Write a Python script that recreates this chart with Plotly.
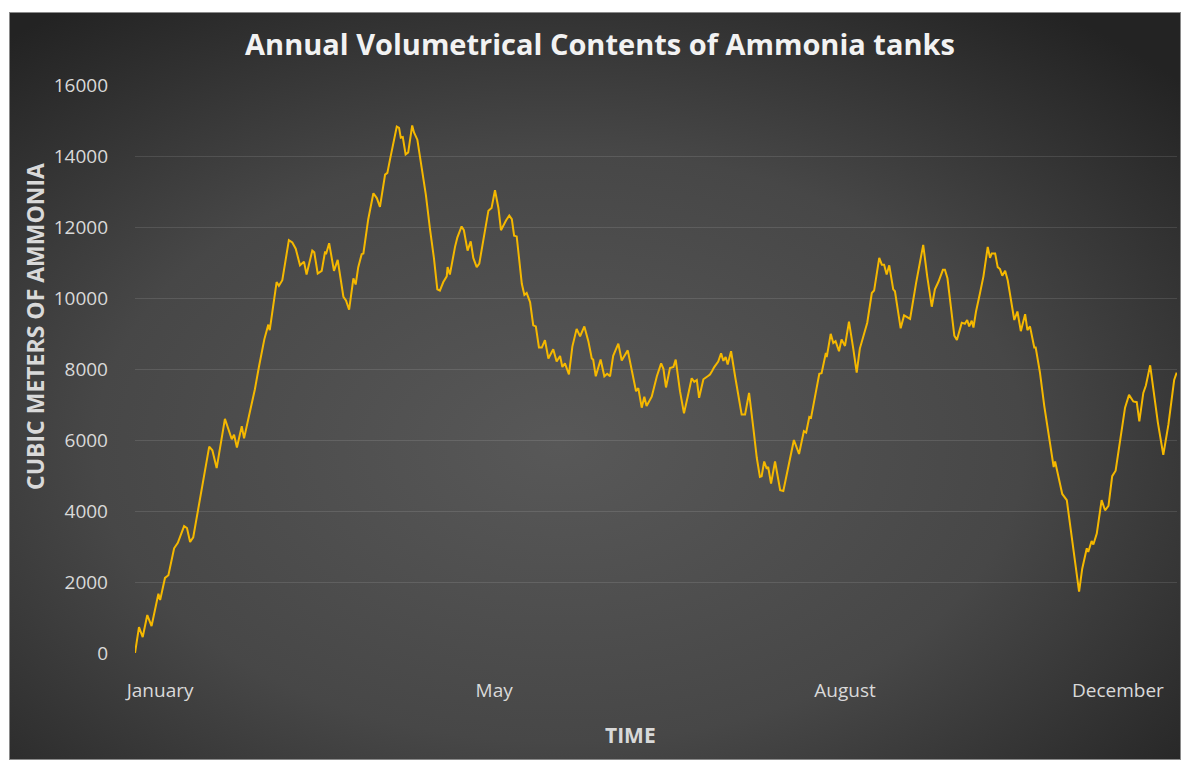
import base64
import plotly.graph_objects as go

# Day of year and tank contents (cubic meters)
days = [
    0.0, 1.4, 2.7, 4.3, 5.8, 8.2, 8.8, 10.5, 11.7, 13.7, 15.0, 17.2, 18.2, 19.3, 20.4,
    23.4, 26.0, 27.1, 28.6, 31.5, 32.9, 33.9, 34.7, 35.7, 37.4, 38.2, 39.9, 42.0, 43.4,
    45.3, 46.7, 47.2, 49.6, 50.4, 51.6, 53.9, 55.1, 56.3, 57.8, 59.2, 60.1, 62.1, 62.8,
    64.0, 65.4, 66.6, 66.9, 68.0, 69.7, 71.0,
    73.0, 73.9, 75.0, 76.5, 77.3, 78.2, 79.4, 80.0, 81.7, 83.5, 84.7, 85.8, 87.6, 88.4,
    89.3, 90.5, 91.7, 92.5, 93.1, 93.8, 94.8, 95.7, 97.1, 97.7, 98.9, 100.4, 101.9, 103.3,
    104.7, 105.9, 106.8, 108.0, 109.2, 109.5, 110.3, 112.1, 112.9, 114.4, 115.2, 116.5,
    117.6, 118.5, 119.7, 120.6, 122.0, 123.8, 124.9, 126.1, 127.3, 128.2, 130.0, 131.1,
    132.0, 132.8, 133.7, 135.5, 136.4, 137.2, 138.4, 139.5, 140.4, 141.5, 142.5, 143.6,
    144.8, 146.5, 147.7, 148.9,
    149.7, 150.6, 152.0, 153.2, 154.7, 155.9, 157.4, 158.8, 160.0, 160.5, 161.4, 162.3,
    163.1, 164.4, 165.4, 166.4, 167.5, 169.3, 170.5, 172.6, 174.0, 175.5, 176.3, 177.5,
    178.4, 179.2, 181.0, 182.8, 184.3, 185.1, 186.0, 187.4, 188.6, 189.4, 190.9, 192.3,
    193.6, 195.0, 195.9, 196.8, 197.6, 199.1, 200.6, 201.4, 202.2, 202.9, 204.3, 205.3,
    206.1, 206.9, 207.6, 208.8, 210.2, 211.3, 212.5, 213.7, 215.1, 216.6, 217.8, 218.9,
    219.5, 220.4, 221.3, 221.8, 222.8,
    224.2, 226.0, 227.1, 228.9, 230.8, 232.6, 234.3, 235.1, 236.2, 236.8, 238.2, 239.7,
    240.5, 242.0, 242.3, 243.7, 244.6, 245.4, 246.6, 247.5, 248.7, 250.1, 251.6, 252.8,
    253.9, 255.1, 256.5, 258.1, 258.9, 260.7, 261.6, 262.4, 263.3, 264.2, 265.6, 266.2,
    268.2, 269.4, 270.5, 271.5, 273.6, 276.1, 277.5, 279.1, 280.2, 281.4, 283.0, 283.7,
    284.6, 286.1, 287.0, 287.9, 289.6, 290.7, 291.5, 292.2, 293.1, 293.7, 294.6, 296.0,
    297.2, 298.7, 299.5,
    300.1, 301.3, 302.2, 303.0, 303.8, 304.8, 305.7, 306.9, 308.0, 309.1, 310.3, 311.8,
    312.6, 313.5, 315.0, 315.5, 317.0, 318.5, 319.9, 321.8, 322.3, 323.4, 324.8, 326.4,
    328.3, 330.7, 331.8, 333.4, 333.9, 335.1, 335.7, 336.9, 338.6, 339.8, 341.0, 342.3,
    343.5, 345.0, 346.8, 348.2, 349.7, 350.9, 351.8, 353.2, 354.1, 355.6, 356.7, 358.3,
    360.2, 362.0, 364.0, 364.9,
]
volume = [
    0, 730, 450, 1070, 760, 1670, 1490, 2115, 2190, 2950, 3105, 3575, 3520, 3125, 3260,
    4615, 5815, 5710, 5210, 6595, 6280, 6020, 6150, 5790, 6390, 6045, 6670, 7430, 8055,
    8835, 9250, 9095, 10450, 10345, 10500, 11630, 11565, 11390, 10920, 11025, 10660, 11335, 11285,
    10690, 10765, 11315, 11230, 11545, 10765, 11075,
    10035, 9930, 9670, 10555, 10380, 10870, 11235, 11255, 12220, 12950, 12815, 12565, 13475, 13525,
    13890, 14360, 14830, 14795, 14515, 14535, 14045, 14100, 14860, 14670, 14460, 13680, 12900, 11960,
    11130, 10245, 10210, 10450, 10610, 10870, 10660, 11440, 11700, 12015, 11910, 11335,
    11595, 11130, 10870, 10970, 11650, 12460, 12535, 13035, 12535, 11910, 12190, 12325,
    12220, 11755, 11735, 10400, 10085, 10140, 9880, 9230, 9200, 8605, 8605, 8815,
    8295, 8555, 8210, 8365,
    8055, 8160, 7845, 8630, 9130, 8920, 9200, 8785, 8295, 8265, 7795, 8055,
    8265, 7795, 7865, 7795, 8370, 8715, 8240, 8525, 7950, 7375, 7460, 6910,
    7220, 6960, 7220, 7795, 8160, 8005, 7480, 8025, 8055, 8265, 7375, 6750,
    7220, 7740, 7640, 7690, 7190, 7710, 7795, 7845, 7950, 8055, 8210, 8440,
    8230, 8335, 8130, 8500, 7795, 7270, 6720, 6720, 7325, 6335, 5500, 4960,
    4980, 5395, 5190, 5240, 4770,
    5395, 4585, 4565, 5240, 6000, 5605, 6250, 6210, 6650, 6625, 7270, 7865,
    7880, 8450, 8335, 8990, 8730, 8785, 8500, 8835, 8650, 9335, 8575, 7900,
    8575, 8940, 9305, 10140, 10210, 11130, 10940, 10940, 10660, 10920, 10245, 10190,
    9145, 9510, 9460, 9410, 10420, 11495, 10610, 9755, 10245, 10450, 10795, 10795,
    10555, 9620, 8940, 8815, 9305, 9275, 9380, 9200, 9360, 9170, 9620, 10140,
    10610, 11440, 11130,
    11255, 11255, 10870, 10815, 10630, 10765, 10500, 9880, 9380, 9620, 9065, 9545,
    9095, 9200, 8605, 8605, 7900, 6960, 6180, 5240, 5395, 5000, 4480, 4305,
    3155, 1730, 2375, 2950, 2845, 3155, 3055, 3365, 4305, 4020, 4145, 4980,
    5135, 5970, 6910, 7270, 7085, 7065, 6525, 7325, 7535, 8105, 7480, 6490,
    5585, 6440, 7690, 7900,
]

month_ticks = [8.8, 125.8, 248.7, 344.3]
month_labels = ["January", "May", "August", "December"]
y_ticks = list(range(0, 16001, 2000))
y_labels = [str(v) for v in y_ticks]

# Soft radial backdrop for the chart panel
svg = (
    "<svg xmlns='http://www.w3.org/2000/svg' width='1172' height='748' "
    "preserveAspectRatio='none' viewBox='0 0 1172 748'>"
    "<defs><radialGradient id='g' cx='47%' cy='58%' r='72%'>"
    "<stop offset='0' stop-color='#585858'/>"
    "<stop offset='0.55' stop-color='#474747'/>"
    "<stop offset='1' stop-color='#232323'/>"
    "</radialGradient></defs>"
    "<rect x='0' y='0' width='1172' height='748' fill='url(#g)'/>"
    "<rect x='0.5' y='0.5' width='1171' height='747' fill='none' stroke='#8a8a8a' stroke-width='1'/>"
    "</svg>"
)
bg_uri = "data:image/svg+xml;base64," + base64.b64encode(svg.encode()).decode()

W, H = 1181, 760
L, R, T, B = 135, 4, 85, 107
pw, ph = W - L - R, H - T - B

fig = go.Figure()
fig.add_trace(go.Scatter(
    x=days, y=volume, mode="lines",
    line=dict(color="#F5B800", width=2),
    hoverinfo="skip", showlegend=False,
))

fig.add_layout_image(
    source=bg_uri, xref="paper", yref="paper",
    x=(9 - L) / pw, y=(H - B - 12) / ph,
    sizex=(W - 9) / pw, sizey=(H - 12) / ph,
    xanchor="left", yanchor="top", sizing="stretch", layer="below",
)

font_family = "Open Sans, Lato, sans-serif"
label_color = "#d9d9d9"

# Axis titles placed as annotations on the figure canvas
fig.add_annotation(
    text="<b>TIME</b>", xref="paper", yref="paper",
    x=(630 - L) / pw, y=-(735 - (H - B)) / ph,
    xanchor="center", yanchor="middle", showarrow=False,
    font=dict(size=21, color=label_color, family=font_family),
)
fig.add_annotation(
    text="<b>CUBIC METERS OF AMMONIA</b>", xref="paper", yref="paper",
    x=(35 - L) / pw, y=((H - B) - 327) / ph, textangle=-90,
    xanchor="center", yanchor="middle", showarrow=False,
    font=dict(size=23, color=label_color, family=font_family),
)

fig.update_layout(
    width=W, height=H,
    margin=dict(l=L, r=R, t=T, b=B),
    paper_bgcolor="white",
    plot_bgcolor="rgba(0,0,0,0)",
    font=dict(family=font_family, color=label_color),
    title=dict(
        text="<b>Annual Volumetrical Contents of Ammonia tanks</b>",
        x=600 / W, xanchor="center", y=1 - 45 / H, yanchor="middle",
        font=dict(size=29, color="#f2f2f2", family=font_family),
    ),
    xaxis=dict(
        range=[0, 365], tickmode="array", tickvals=month_ticks, ticktext=month_labels,
        showgrid=False, zeroline=False, showline=False,
        ticks="", ticklabelstandoff=24,
        tickfont=dict(size=19, color=label_color),
    ),
    yaxis=dict(
        range=[0, 16000], tickmode="array", tickvals=y_ticks, ticktext=y_labels,
        showgrid=True, gridcolor="rgba(255,255,255,0.11)", gridwidth=1,
        zeroline=False, showline=False,
        ticks="", ticklabelstandoff=26,
        tickfont=dict(size=19, color=label_color),
    ),
)

fig.write_html("out.html")
